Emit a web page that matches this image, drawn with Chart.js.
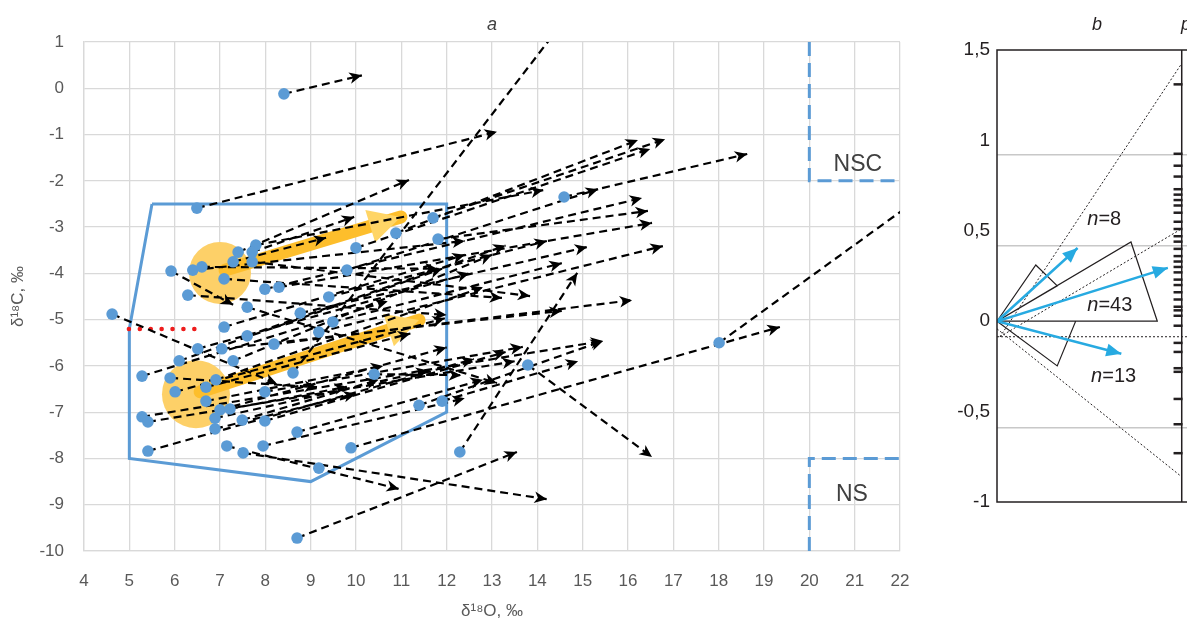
<!DOCTYPE html>
<html>
<head>
<meta charset="utf-8">
<script src="https://cdn.jsdelivr.net/npm/chart.js@4.4.0/dist/chart.umd.min.js"></script>
<style>
  html, body { margin: 0; padding: 0; background: #fff; overflow: hidden; }
  #wrapA { position: absolute; left: 0; top: 0; width: 940px; height: 623px; }
  #wrapB { position: absolute; left: 940px; top: 0; width: 300px; height: 623px; }
</style>
</head>
<body>
<div id="wrapA"><canvas id="chartA"></canvas></div>
<div id="wrapB"><canvas id="chartB"></canvas></div>
<script>
Chart.defaults.font.family = "'Liberation Sans', Arial, sans-serif";

/* ---- panel a : d18O (x) / d13C (y) ---- */
var dotX = [8.41, 6.49, 4.62, 5.92, 6.40, 6.60, 6.29, 7.40, 7.29, 7.79, 7.71, 7.71, 7.09, 7.99, 8.30, 7.60,
  7.09, 7.60, 8.77, 6.51, 7.04, 6.10, 7.29, 8.19, 5.28, 5.90, 6.91, 6.69, 6.01, 6.69, 7.99, 8.61,
  5.28, 5.41, 7.00, 7.22, 6.89, 7.49, 7.99, 6.89, 8.70, 5.41, 7.15, 7.51, 7.95, 11.70, 11.81, 10.88,
  10.00, 9.80, 9.40, 9.49, 9.18, 10.40, 11.39, 11.90, 9.89, 9.18, 12.29, 8.70, 14.59, 13.79, 18.01];
var dotY = [-0.12, -2.59, -4.88, -3.95, -3.93, -3.86, -4.47, -3.54, -3.75, -3.39, -3.54, -3.75, -4.12, -4.34, -4.30, -4.73,
  -5.16, -5.35, -4.86, -5.63, -5.63, -5.89, -5.89, -5.53, -6.22, -6.26, -6.30, -6.46, -6.56, -6.76, -6.56, -6.15,
  -7.10, -7.21, -6.95, -6.93, -7.13, -7.17, -7.19, -7.36, -7.43, -7.84, -7.73, -7.88, -7.73, -2.80, -3.26, -3.13,
  -3.45, -3.93, -4.51, -5.05, -5.27, -6.18, -6.85, -6.76, -7.77, -8.21, -7.86, -9.72, -2.35, -5.98, -5.50];

var arrowX0 = [8.41, 6.49, 7.40, 7.71, 7.29, 10.88, 11.70, 10.00, 14.59, 7.79, 9.80, 7.99, 11.81, 8.30, 9.40, 8.77,
  9.18, 9.49, 12.29, 7.09, 7.71, 8.19, 7.04, 7.99, 5.28, 9.89, 13.79, 8.70, 7.51, 7.15, 6.01, 5.92,
  4.62, 10.40, 7.60, 5.28, 5.90, 5.41, 8.70, 5.41, 11.39, 11.90, 8.61, 18.01, 6.51, 6.10, 7.29, 6.91,
  6.69, 6.69, 7.00, 7.22, 6.89, 7.49, 7.99, 6.89, 7.95, 6.40, 6.60, 6.29, 7.09, 7.60];
var arrowY0 = [-0.12, -2.59, -3.54, -3.54, -3.75, -3.13, -2.80, -3.45, -2.35, -3.39, -3.93, -4.34, -3.26, -4.30, -4.51, -4.86,
  -5.27, -5.05, -7.86, -4.12, -3.75, -5.53, -5.63, -6.56, -7.10, -7.77, -5.98, -9.72, -7.88, -7.73, -6.56, -3.95,
  -4.88, -6.18, -4.73, -6.22, -6.26, -7.21, -7.43, -7.84, -6.85, -6.76, -6.15, -5.50, -5.63, -5.89, -5.89, -6.30,
  -6.46, -6.76, -6.95, -6.93, -7.13, -7.17, -7.19, -7.36, -7.73, -3.93, -3.86, -4.47, -5.16, -5.35];
var arrowX1 = [10.13, 13.11, 11.17, 9.96, 9.34, 16.22, 16.82, 16.49, 18.63, 14.13, 15.34, 16.31, 16.44, 16.53, 14.21, 15.10,
  16.77, 14.54, 14.88, 13.22, 13.84, 16.09, 14.54, 13.68, 15.45, 19.35, 16.53, 13.55, 14.21, 10.95, 11.96, 7.29,
  8.26, 12.32, 13.11, 10.70, 9.14, 13.50, 12.80, 12.60, 15.45, 14.90, 14.70, 22.60, 12.50, 11.90, 13.00, 12.80,
  11.20, 10.60, 12.00, 9.80, 11.60, 10.50, 13.30, 10.00, 12.40, 12.40, 11.80, 12.00, 12.40, 13.30];
var arrowY1 = [0.28, -0.94, -1.98, -2.78, -3.23, -1.12, -1.10, -1.31, -1.42, -2.20, -2.18, -2.37, -2.65, -2.91, -3.30, -3.43,
  -3.41, -3.78, -3.99, -4.53, -4.49, -4.58, -4.81, -5.59, -5.46, -5.16, -7.97, -7.86, -8.88, -8.66, -4.97, -4.68,
  -6.39, -6.20, -6.37, -4.60, -6.46, -5.90, -6.30, -5.85, -5.46, -5.90, 1.60, -2.25, -4.00, -3.90, -3.60, -4.30,
  -5.30, -6.00, -5.60, -6.45, -6.10, -6.30, -5.70, -6.60, -6.70, -3.30, -3.90, -4.90, -3.60, -3.40];

var polyX = [5.5, 12, 12, 9, 5, 5, 5.5];
var polyY = [-2.5, -2.5, -7, -8.5, -8, -5.2, -2.5];
var zoneX = [20, 20, 22, 22, 20, 20, 22];
var zoneY = [1, -2, -2, null, -10, -8, -8];
var zoneText = ['NSC', 'NS'];
var zoneTextX = [21.07, 20.94];
var zoneTextY = [-1.66, -8.79];
var redX = [4.99, 6.55];
var redY = [-5.2, -5.2];
var clusterX = [7.0, 6.47];
var clusterY = [-3.99, -6.61];
var trendX0 = [7.11, 6.56], trendY0 = [-3.93, -6.56];
var trendX1 = [10.99, 11.39], trendY1 = [-2.78, -5.01];

/* ---- panel b ---- */
var bTipU = [0.459, 0.973, 0.708];
var bTipV = [0.405, 0.295, -0.18];
var bLabel = ['8', '43', '13'];
var bLabelU = [0.514, 0.514, 0.536];
var bLabelV = [0.561, 0.085, -0.307];
var sectorU = [0, 0.763, 0.913, 0, 0, 0, 0.221, 0.343, 0, 0, 0, 0.448, 0.343, 0];
var sectorV = [0, 0.438, 0, 0, null, 0, 0.311, 0.196, 0, null, 0, 0, -0.247, 0];
var boundU = [0.017, 1.051, 1.051, 0.017, 1.051, 1.051, 0, 1.051, 1.051, 0, 1.344];
var boundV = [-0.086, 1.424, null, -0.086, 0.511, null, -0.042, -0.86, null, -0.086, -0.086];
var bGridV = [0.92, 0.417, -0.59];
var rugV = [1.31, 0.926, 0.86, 0.80, 0.73, 0.70, 0.67, 0.64, 0.60, 0.55, 0.51, 0.47, 0.44, 0.40, 0.36, 0.33,
  0.30, 0.27, 0.23, 0.20, 0.16, 0.12, 0.08, 0.06, 0.03, -0.025, -0.12, -0.17, -0.26, -0.28, -0.43, -0.57, -0.73];

pts = (xs, ys) => xs.map((x, i) => ({ x: x, y: ys[i] }));

segments = (x0, y0, x1, y1) => {
  let out = [];
  for (let i = 0; i < x0.length; i++)
    out.push({ x: x0[i], y: y0[i] }, { x: x1[i], y: y1[i] }, { x: x1[i], y: null });
  return out;
};

arrowHead = (ctx, x, y, ang, len, half, notch) => {
  ctx.save();
  ctx.translate(x, y);
  ctx.rotate(ang);
  ctx.beginPath();
  ctx.moveTo(0, 0);
  ctx.lineTo(-len, -half);
  ctx.lineTo(-len + notch, 0);
  ctx.lineTo(-len, half);
  ctx.closePath();
  ctx.fill();
  ctx.restore();
};

headsFor = (chart, x0, y0, x1, y1, color, len, half, notch) => {
  let xs = chart.scales.x, ys = chart.scales.y, ctx = chart.ctx, a = chart.chartArea;
  ctx.save();
  ctx.beginPath();
  ctx.rect(a.left, a.top, a.right - a.left, a.bottom - a.top);
  ctx.clip();
  ctx.fillStyle = color;
  for (let i = 0; i < x0.length; i++) {
    let px0 = xs.getPixelForValue(x0[i]), py0 = ys.getPixelForValue(y0[i]);
    let px1 = xs.getPixelForValue(x1[i]), py1 = ys.getPixelForValue(y1[i]);
    arrowHead(ctx, px1, py1, Math.atan2(py1 - py0, px1 - px0), len, half, notch);
  }
  ctx.restore();
};

var decorA = {
  id: 'decorA',
  afterDatasetDraw: function (chart, args) {
    let label = chart.data.datasets[args.index].label;
    if (label === 'arrows')
      headsFor(chart, arrowX0, arrowY0, arrowX1, arrowY1, '#000', 12.5, 5.8, 3.5);
    if (label === 'trend')
      headsFor(chart, trendX0, trendY0, trendX1, trendY1, '#FFD566', 32, 17, 0);
  },
  afterDraw: function (chart) {
    let ctx = chart.ctx, xs = chart.scales.x, ys = chart.scales.y;
    ctx.save();
    ctx.fillStyle = '#404040';
    ctx.textAlign = 'center';
    ctx.textBaseline = 'middle';
    ctx.font = "italic 18px 'Liberation Sans', Arial";
    ctx.fillText('a', (chart.chartArea.left + chart.chartArea.right) / 2, 25);
    ctx.font = "23px 'Liberation Sans', Arial";
    for (let i = 0; i < zoneText.length; i++)
      ctx.fillText(zoneText[i], xs.getPixelForValue(zoneTextX[i]), ys.getPixelForValue(zoneTextY[i]));
    ctx.restore();
  }
};

var lineDs = { showLine: true, pointRadius: 0, pointHoverRadius: 0, fill: false };

new Chart(document.getElementById('chartA'), {
  type: 'scatter',
  plugins: [decorA],
  data: {
    datasets: [
      { label: 'dots', data: pts(dotX, dotY), backgroundColor: '#5B9BD5', borderWidth: 0, pointRadius: 5.8, order: 0 },
      Object.assign({ label: 'arrows', data: segments(arrowX0, arrowY0, arrowX1, arrowY1), borderColor: '#000', borderWidth: 2.2, borderDash: [8, 5], order: 1 }, lineDs),
      Object.assign({ label: 'field', data: pts(polyX, polyY), borderColor: '#5B9BD5', borderWidth: 3, order: 2 }, lineDs),
      Object.assign({ label: 'zones', data: pts(zoneX, zoneY), borderColor: '#5B9BD5', borderWidth: 3, borderDash: [14, 7], order: 2 }, lineDs),
      Object.assign({ label: 'red', data: pts(redX, redY), borderColor: '#EE1C1C', borderWidth: 4.5, borderDash: [0.1, 10.8], borderCapStyle: 'round', order: 1.5 }, lineDs),
      Object.assign({ label: 'trend', data: segments(trendX0, trendY0, trendX1, trendY1), borderColor: '#FDBE2C', borderWidth: 13, borderCapStyle: 'round', order: 3 }, lineDs),
      { label: 'clusters', data: pts(clusterX, clusterY), backgroundColor: '#FDD068', borderWidth: 0, pointRadius: [31, 34], order: 4 }
    ]
  },
  options: {
    responsive: true,
    maintainAspectRatio: false,
    animation: false,
    events: [],
    layout: { padding: { top: 42, right: 40, bottom: 0, left: 0 } },
    plugins: { legend: { display: false }, tooltip: { enabled: false } },
    scales: {
      x: {
        type: 'linear', min: 4, max: 22,
        afterFit: (s) => { s.height = 72; },
        ticks: { stepSize: 1, padding: 20, color: '#595959', font: { size: 17 } },
        grid: { color: '#D9D9D9', lineWidth: 1.3, drawTicks: false },
        border: { color: '#D9D9D9', width: 1.3 },
        title: { display: true, text: 'δ¹⁸O, ‰', color: '#595959', font: { size: 17 }, padding: { top: 4, bottom: 1 } }
      },
      y: {
        type: 'linear', min: -10, max: 1,
        afterFit: (s) => { s.width = 84; },
        ticks: { stepSize: 1, padding: 20, color: '#595959', font: { size: 17 } },
        grid: { color: '#D9D9D9', lineWidth: 1.3, drawTicks: false },
        border: { color: '#D9D9D9', width: 1.3 },
        title: { display: true, text: 'δ¹⁸C, ‰', color: '#595959', font: { size: 17 }, padding: { top: 8, bottom: 4 } }
      }
    }
  }
});

/* ---- panel b ---- */
var decorB = {
  id: 'decorB',
  afterDatasetDraw: function (chart, args) {
    if (chart.data.datasets[args.index].label === 'vectors')
      headsFor(chart, bTipU.map(() => 0), bTipV.map(() => 0), bTipU, bTipV, '#27AAE1', 15, 6.5, 0);
  },
  afterDraw: function (chart) {
    let ctx = chart.ctx, xs = chart.scales.x, ys = chart.scales.y, a = chart.chartArea;
    ctx.save();
    ctx.strokeStyle = '#231F20';
    ctx.lineWidth = 1.5;
    ctx.strokeRect(a.left, a.top, a.right - a.left, a.bottom - a.top);
    ctx.fillStyle = '#231F20';
    ctx.textBaseline = 'middle';
    ctx.textAlign = 'center';
    ctx.font = "italic 18px 'Liberation Sans', Arial";
    ctx.fillText('b', 157, 25);
    ctx.fillText('p', 246, 25);
    ctx.textAlign = 'left';
    for (let i = 0; i < bLabel.length; i++) {
      let x = xs.getPixelForValue(bLabelU[i]), y = ys.getPixelForValue(bLabelV[i]);
      ctx.font = "italic 20px 'Liberation Sans', Arial";
      ctx.fillText('n', x, y);
      let w = ctx.measureText('n').width;
      ctx.font = "20px 'Liberation Sans', Arial";
      ctx.fillText('=' + bLabel[i], x + w, y);
    }
    ctx.restore();
  }
};

new Chart(document.getElementById('chartB'), {
  type: 'scatter',
  plugins: [decorB],
  data: {
    datasets: [
      { label: 'rug', data: rugV.map((v) => ({ x: 1.031, y: v })), pointStyle: 'line', pointRadius: 4.5, borderColor: '#231F20', borderWidth: 2.5, order: 0 },
      Object.assign({ label: 'rugAxis', data: [{ x: 1.052, y: 1.5 }, { x: 1.052, y: -1 }], borderColor: '#231F20', borderWidth: 1.5, order: 0 }, lineDs),
      Object.assign({ label: 'vectors', data: segments(bTipU.map(() => 0), bTipV.map(() => 0), bTipU, bTipV), borderColor: '#27AAE1', borderWidth: 2.5, order: 1 }, lineDs),
      Object.assign({ label: 'sectors', data: pts(sectorU, sectorV), borderColor: '#231F20', borderWidth: 1.2, order: 2 }, lineDs),
      Object.assign({ label: 'bounds', data: pts(boundU, boundV), borderColor: '#231F20', borderWidth: 1, borderDash: [2, 2], order: 3 }, lineDs),
      Object.assign({ label: 'grid', data: segments(bGridV.map(() => 0), bGridV, bGridV.map(() => 1.344), bGridV), borderColor: '#C8C8C8', borderWidth: 1.5, order: 4 }, lineDs)
    ]
  },
  options: {
    responsive: true,
    maintainAspectRatio: false,
    animation: false,
    events: [],
    layout: { padding: { top: 50, right: 0, bottom: 121, left: 0 } },
    plugins: { legend: { display: false }, tooltip: { enabled: false } },
    scales: {
      x: { type: 'linear', min: 0, max: 1.344, display: false },
      y: {
        type: 'linear', min: -1, max: 1.5,
        afterFit: (s) => { s.width = 57; },
        ticks: {
          stepSize: 0.5, padding: 7, color: '#231F20', font: { size: 19 },
          callback: (v) => String(v).replace('.', ',')
        },
        grid: { display: false, drawTicks: false },
        border: { display: false }
      }
    }
  }
});
</script>
</body>
</html>
